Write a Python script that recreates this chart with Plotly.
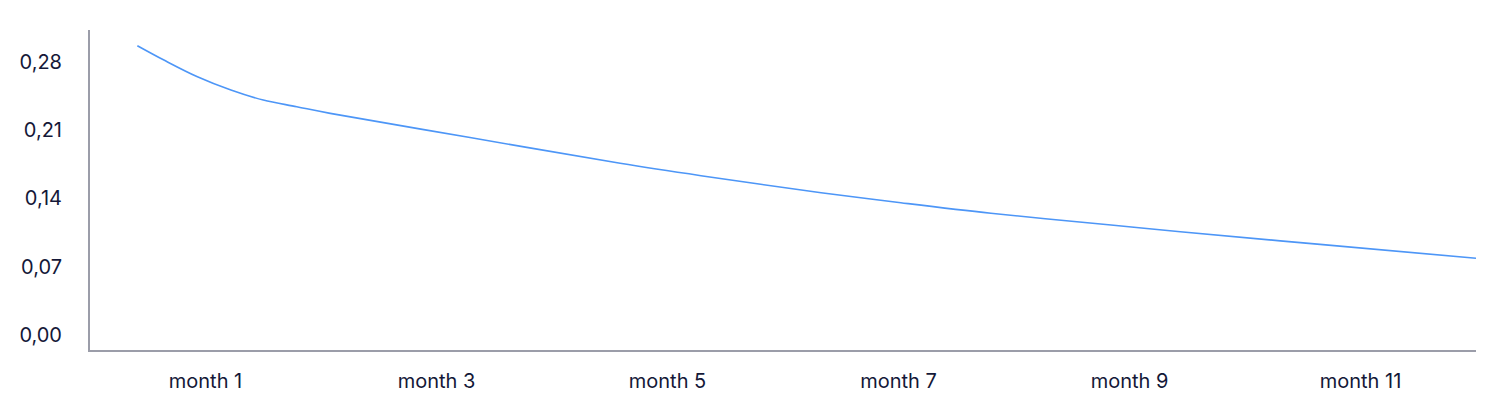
import plotly.graph_objects as go

# data (x in months, y values)
months = [0.41, 0.64, 0.93, 1.22, 1.50, 1.79, 2.08, 3.29, 4.59, 5.29, 6.33, 7.02, 7.80, 8.84, 9.44, 10.65, 12.0]
values = [0.2964, 0.2817, 0.2646, 0.2510, 0.2407, 0.2339, 0.2271, 0.2023, 0.1759, 0.1632, 0.1458, 0.1355, 0.1247, 0.1127, 0.1058, 0.0928, 0.0786]
tick_positions = [1, 3, 5, 7, 9, 11]
tick_labels = ["month 1", "month 3", "month 5", "month 7", "month 9", "month 11"]
y_ticks = [0.0, 0.07, 0.14, 0.21, 0.28]

fig = go.Figure()
fig.add_trace(go.Scatter(
    x=months, y=values, mode="lines",
    line=dict(color="#4d96f7", width=1.6, shape="spline", smoothing=1.0),
    hoverinfo="skip", showlegend=False,
))

font_color = "#141838"
fig.update_layout(
    width=1499, height=408,
    margin=dict(l=82, r=31, t=22, b=66),
    paper_bgcolor="white", plot_bgcolor="white",
    separators=",.",
    font=dict(family="Inter, Open Sans, sans-serif", size=20, color=font_color),
)
fig.update_xaxes(
    range=[0, 12], tickmode="array", tickvals=tick_positions, ticktext=tick_labels,
    showgrid=False, zeroline=False, showline=True, linecolor="#9b9da9", linewidth=2,
    ticks="", ticklabelstandoff=12, tickfont=dict(size=20),
)
fig.update_yaxes(
    range=[-0.0154, 0.3125], tickmode="array", tickvals=y_ticks,
    ticktext=[f"{v:.2f}".replace(".", ",") for v in y_ticks],
    showgrid=False, zeroline=False, showline=True, linecolor="#9b9da9", linewidth=2,
    ticks="", ticklabelstandoff=22, tickfont=dict(size=20),
)
fig.write_html("out.html")
